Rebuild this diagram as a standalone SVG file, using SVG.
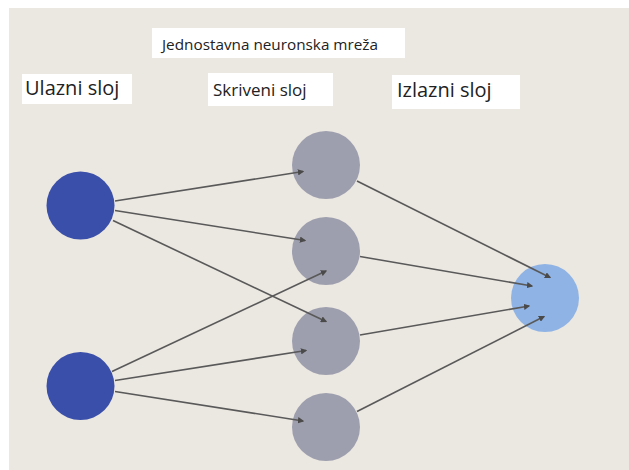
<svg xmlns="http://www.w3.org/2000/svg" width="629" height="470" viewBox="0 0 629 470">
<style>
.lbl{fill:#ffffff}
.t{font-family:"Open Sans","Noto Sans","DejaVu Sans",sans-serif;fill:#222222}
.in{fill:#3a4fa9}
.hid{fill:#9e9fae}
.out{fill:#8fb3e4}
.e{stroke:#595959;stroke-width:1.6;fill:none;marker-end:url(#ah)}
</style>
<defs>
<marker id="ah" viewBox="0 0 10 10" refX="8" refY="5" markerWidth="4" markerHeight="4" orient="auto" markerUnits="strokeWidth">
<path d="M0,0 L10,5 L0,10 z" fill="#4a4a4a"/>
</marker>
</defs>
<rect x="0" y="0" width="629" height="470" fill="#ffffff"/>
<rect x="9" y="8" width="620" height="462" fill="#ebe7e1"/>
<g id="title">
<rect class="lbl" x="152" y="28" width="253" height="30"/>
<text class="t" x="162" y="50" font-size="15.3">Jednostavna neuronska mreža</text>
</g>
<g id="label-input">
<rect class="lbl" x="22" y="74" width="110" height="30"/>
<text class="t" x="25" y="95" font-size="20">Ulazni sloj</text>
</g>
<g id="label-hidden">
<rect class="lbl" x="208" y="73" width="125" height="33"/>
<text class="t" x="213" y="96" font-size="17">Skriveni sloj</text>
</g>
<g id="label-output">
<rect class="lbl" x="392" y="75" width="128" height="34"/>
<text class="t" x="397" y="97" font-size="20">Izlazni sloj</text>
</g>
<g id="input-1"><circle class="in" cx="80.5" cy="205.5" r="34"/></g>
<g id="input-2"><circle class="in" cx="80.5" cy="386" r="34"/></g>
<g id="hidden-1"><circle class="hid" cx="326" cy="165" r="34"/></g>
<g id="hidden-2"><circle class="hid" cx="326" cy="251" r="34"/></g>
<g id="hidden-3"><circle class="hid" cx="326" cy="341" r="34"/></g>
<g id="hidden-4"><circle class="hid" cx="326" cy="427" r="34"/></g>
<g id="output-1"><circle class="out" cx="545" cy="298" r="34"/></g>
<g id="connectors">
<line class="e" x1="115" y1="201" x2="303" y2="171.5"/>
<line class="e" x1="115" y1="210.5" x2="305" y2="240.5"/>
<line class="e" x1="113" y1="220.5" x2="326" y2="321.5"/>
<line class="e" x1="112" y1="371.5" x2="326" y2="271"/>
<line class="e" x1="115" y1="380.5" x2="306" y2="350.5"/>
<line class="e" x1="115" y1="391.5" x2="303" y2="421"/>
<line class="e" x1="357" y1="181" x2="550" y2="277.5"/>
<line class="e" x1="360" y1="256.5" x2="532" y2="286"/>
<line class="e" x1="360" y1="335" x2="529" y2="306"/>
<line class="e" x1="357" y1="411.5" x2="544" y2="316.5"/>
</g>
</svg>
